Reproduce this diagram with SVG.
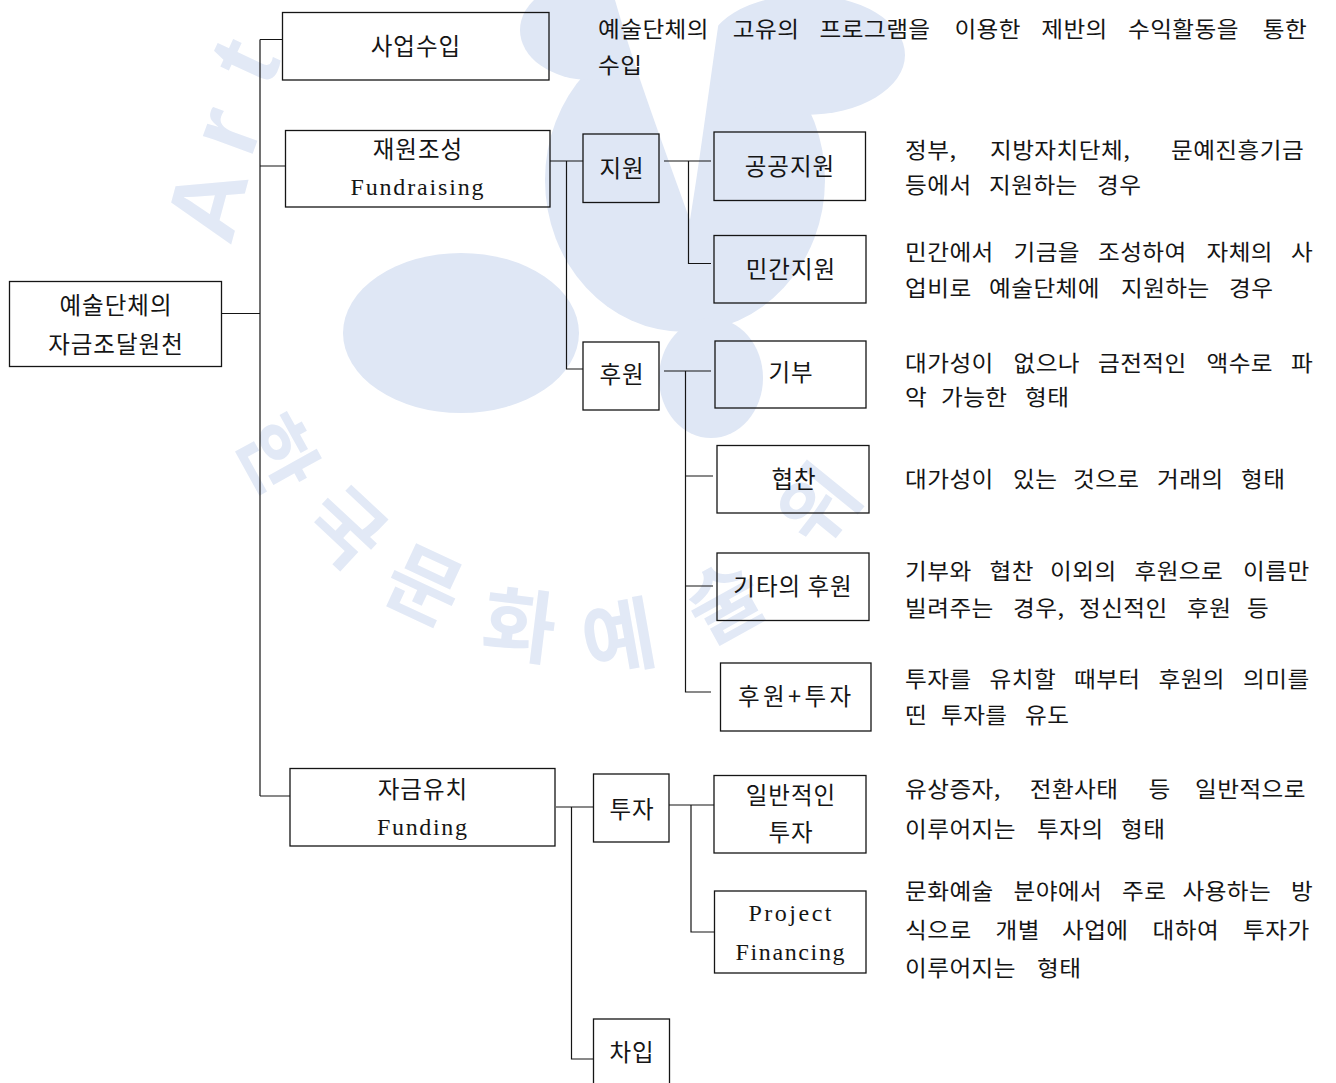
<svg xmlns="http://www.w3.org/2000/svg" width="1336" height="1083" viewBox="0 0 1336 1083">
<style>
.box{fill:none;stroke:#151515;stroke-width:1.3}
.conn{fill:none;stroke:#151515;stroke-width:1.2}
.lbl{font-family:"Noto Sans CJK KR",sans-serif;font-size:23.5px;letter-spacing:1px;fill:#151515;text-anchor:middle}
.lat{font-family:"Liberation Serif",serif;font-size:24px;fill:#151515;text-anchor:middle}
.desc{font-family:"Noto Sans CJK KR",sans-serif;font-size:21.5px;letter-spacing:0.4px;fill:#151515}
.wm{fill:#dfe7f5;stroke:none}
.wmk{font-family:"Noto Sans CJK KR",sans-serif;font-weight:bold;font-size:80px;fill:#e2e9f6;text-anchor:middle;dominant-baseline:central}
.wml{font-family:"Liberation Sans",sans-serif;font-weight:bold;font-size:100px;fill:#e2e9f6;text-anchor:middle;dominant-baseline:central}
</style>
<rect width="1336" height="1083" fill="#ffffff"/>
<g id="watermark">
<ellipse class="wm" cx="685" cy="180" rx="140" ry="152"/>
<ellipse class="wm" cx="805" cy="55" rx="100" ry="60"/>
<ellipse class="wm" cx="590" cy="30" rx="70" ry="50"/>
<path d="M615 0 C635 70 665 150 690 220 C700 160 710 80 722 0 Z" fill="#ffffff"/>
<ellipse class="wm" cx="461" cy="333" rx="118" ry="80"/>
<ellipse class="wm" cx="711" cy="378" rx="52" ry="60"/>
<text class="wml" transform="translate(206 203) rotate(-75)">A</text>
<text class="wml" transform="translate(224 130) rotate(-70)">r</text>
<text class="wml" transform="translate(243 60) rotate(-65)">t</text>
<text class="wmk" transform="translate(282 452) rotate(61)">한</text>
<text class="wmk" transform="translate(350 523) rotate(43)">국</text>
<text class="wmk" transform="translate(427 580) rotate(25)">문</text>
<text class="wmk" transform="translate(520 620) rotate(7)">화</text>
<text class="wmk" transform="translate(618 632) rotate(-10)">예</text>
<text class="wmk" transform="translate(722 597) rotate(-29)">술</text>
<text class="wmk" transform="translate(814 502) rotate(-51)">위</text>
</g>
<g id="connectors">
<path class="conn" d="M222 313.5H260M260 39.5V796M260 39.5H282M260 166H285M260 796H290"/>
<path class="conn" d="M550 161H583M566.5 161V369H583"/>
<path class="conn" d="M664 161H711M688.5 161V263.5H711"/>
<path class="conn" d="M664 371H711M685.5 371V692H711M685.5 476H713M685.5 586H713"/>
<path class="conn" d="M556 807H593.5M571.5 807V1059H593.5"/>
<path class="conn" d="M669 805H714M691 805V932H714"/>
</g>
<g id="root"><rect class="box" x="9.5" y="281.5" width="212" height="85"/>
<text class="lbl" x="116" y="314">예술단체의</text><text class="lbl" x="116" y="353">자금조달원천</text></g>
<g id="n-saeop"><rect class="box" x="282.5" y="12.5" width="266.5" height="67.5"/>
<text class="lbl" x="416" y="55">사업수입</text></g>
<g id="n-jaewon"><rect class="box" x="285.5" y="130.5" width="264.5" height="76.5"/>
<text class="lbl" x="418" y="158">재원조성</text><text class="lat" x="417" y="195" textLength="133" lengthAdjust="spacing">Fundraising</text></g>
<g id="n-jageum"><rect class="box" x="290" y="768.5" width="265" height="77.5"/>
<text class="lbl" x="423" y="798">자금유치</text><text class="lat" x="422" y="835" textLength="90" lengthAdjust="spacing">Funding</text></g>
<g id="n-jiwon"><rect class="box" x="583" y="134" width="76" height="68.5"/>
<text class="lbl" x="622" y="177">지원</text></g>
<g id="n-huwon"><rect class="box" x="583" y="342" width="76" height="68"/>
<text class="lbl" x="622" y="383">후원</text></g>
<g id="n-tuja"><rect class="box" x="593.5" y="774" width="75.5" height="68"/>
<text class="lbl" x="632" y="818">투자</text></g>
<g id="n-chaip"><rect class="box" x="593.5" y="1019" width="76" height="70"/>
<text class="lbl" x="632" y="1061">차입</text></g>
<g id="n-gonggong"><rect class="box" x="714" y="132" width="151.5" height="68.5"/>
<text class="lbl" x="790" y="175">공공지원</text></g>
<g id="n-mingan"><rect class="box" x="714" y="235.5" width="152" height="67.5"/>
<text class="lbl" x="791" y="278">민간지원</text></g>
<g id="n-gibu"><rect class="box" x="715" y="341" width="151" height="67"/>
<text class="lbl" x="791" y="381">기부</text></g>
<g id="n-hyeopchan"><rect class="box" x="717" y="445.5" width="152" height="67.5"/>
<text class="lbl" x="794" y="488">협찬</text></g>
<g id="n-gita"><rect class="box" x="717" y="553" width="152" height="67.5"/>
<text class="lbl" x="793" y="594.5">기타의 후원</text></g>
<g id="n-huwontuja"><rect class="box" x="720.5" y="663" width="150.5" height="68"/>
<text class="lbl" x="795" y="704.5" textLength="114" lengthAdjust="spacing">후원+투자</text></g>
<g id="n-ilban"><rect class="box" x="714" y="775.5" width="152" height="77.5"/>
<text class="lbl" x="791" y="803.5">일반적인</text><text class="lbl" x="791" y="841">투자</text></g>
<g id="n-pf"><rect class="box" x="714.5" y="891" width="151.5" height="82"/>
<text class="lat" x="790" y="920.5" textLength="83" lengthAdjust="spacing">Project</text><text class="lat" x="790" y="960" textLength="109" lengthAdjust="spacing">Financing</text></g>
<g id="descriptions" transform="scale(1.1 1)">
<text class="desc" y="37.5"><tspan x="543.64">예술단체의</tspan><tspan x="666.18">고유의</tspan><tspan x="745.09">프로그램을</tspan><tspan x="867.64">이용한</tspan><tspan x="946.55">제반의</tspan><tspan x="1025.45">수익활동을</tspan><tspan x="1148">통한</tspan></text>
<text class="desc" x="543.64" y="73.5">수입</text>
<text class="desc" y="158"><tspan x="822.73">정부,</tspan><tspan x="900">지방자치단체,</tspan><tspan x="1064.55">문예진흥기금</tspan></text>
<text class="desc" y="193"><tspan x="822.73">등에서</tspan><tspan x="899.09">지원하는</tspan><tspan x="997.27">경우</tspan></text>
<text class="desc" y="260"><tspan x="822.73">민간에서</tspan><tspan x="921.36">기금을</tspan><tspan x="998.18">조성하여</tspan><tspan x="1096.82">자체의</tspan><tspan x="1173.64">사</tspan></text>
<text class="desc" y="296"><tspan x="822.73">업비로</tspan><tspan x="899.09">예술단체에</tspan><tspan x="1019.09">지원하는</tspan><tspan x="1117.27">경우</tspan></text>
<text class="desc" y="371"><tspan x="822.73">대가성이</tspan><tspan x="921.36">없으나</tspan><tspan x="998.18">금전적인</tspan><tspan x="1096.82">액수로</tspan><tspan x="1173.64">파</tspan></text>
<text class="desc" y="405"><tspan x="822.73">악</tspan><tspan x="855.45">가능한</tspan><tspan x="931.82">형태</tspan></text>
<text class="desc" y="487"><tspan x="822.73">대가성이</tspan><tspan x="920.91">있는</tspan><tspan x="975.45">것으로</tspan><tspan x="1051.82">거래의</tspan><tspan x="1128.18">형태</tspan></text>
<text class="desc" y="579"><tspan x="822.73">기부와</tspan><tspan x="899.55">협찬</tspan><tspan x="954.55">이외의</tspan><tspan x="1031.36">후원으로</tspan><tspan x="1130">이름만</tspan></text>
<text class="desc" y="616"><tspan x="822.73">빌려주는</tspan><tspan x="920.91">경우,</tspan><tspan x="980.91">정신적인</tspan><tspan x="1079.09">후원</tspan><tspan x="1133.64">등</tspan></text>
<text class="desc" y="687"><tspan x="822.73">투자를</tspan><tspan x="899.55">유치할</tspan><tspan x="976.36">때부터</tspan><tspan x="1053.18">후원의</tspan><tspan x="1130">의미를</tspan></text>
<text class="desc" y="723"><tspan x="822.73">띤</tspan><tspan x="855.45">투자를</tspan><tspan x="931.82">유도</tspan></text>
<text class="desc" y="797"><tspan x="822.73">유상증자,</tspan><tspan x="936.09">전환사태</tspan><tspan x="1044">등</tspan><tspan x="1086.36">일반적으로</tspan></text>
<text class="desc" y="837"><tspan x="822.73">이루어지는</tspan><tspan x="942.73">투자의</tspan><tspan x="1019.09">형태</tspan></text>
<text class="desc" y="899"><tspan x="822.73">문화예술</tspan><tspan x="921.36">분야에서</tspan><tspan x="1020">주로</tspan><tspan x="1075">사용하는</tspan><tspan x="1173.64">방</tspan></text>
<text class="desc" y="938"><tspan x="822.73">식으로</tspan><tspan x="905">개별</tspan><tspan x="965.45">사업에</tspan><tspan x="1047.73">대하여</tspan><tspan x="1130">투자가</tspan></text>
<text class="desc" y="976"><tspan x="822.73">이루어지는</tspan><tspan x="942.73">형태</tspan></text>
</g>
</svg>
